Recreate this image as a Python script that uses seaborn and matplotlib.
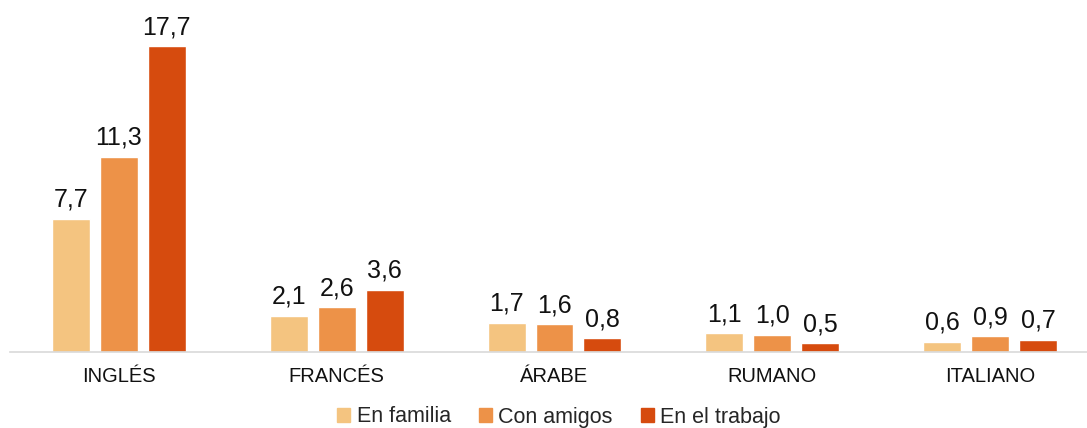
import pandas as pd
import matplotlib
matplotlib.use("Agg")
import matplotlib.pyplot as plt
from matplotlib.patches import Rectangle
import seaborn as sns

# data
idiomas = ["INGLÉS", "FRANCÉS", "ÁRABE", "RUMANO", "ITALIANO"]
series = ["En familia", "Con amigos", "En el trabajo"]
en_familia = [7.7, 2.1, 1.7, 1.1, 0.6]
con_amigos = [11.3, 2.6, 1.6, 1.0, 0.9]
en_trabajo = [17.7, 3.6, 0.8, 0.5, 0.7]
colores = ["#F4C480", "#ED9248", "#D64B0E"]

df = pd.DataFrame({
    "idioma": idiomas * 3,
    "serie": [series[0]] * 5 + [series[1]] * 5 + [series[2]] * 5,
    "valor": en_familia + con_amigos + en_trabajo,
})

sns.set_style("white")
plt.rcParams["font.family"] = ["Liberation Sans", "DejaVu Sans"]

W, H = 1087, 428
fig = plt.figure(figsize=(W / 100, H / 100), dpi=100)
ax = fig.add_axes([10 / W, 76 / H, 1089 / W, 352 / H])

sns.barplot(data=df, x="idioma", y="valor", hue="serie", order=idiomas,
            hue_order=series, palette=colores, width=0.66, gap=0.21,
            saturation=1, legend=False, ax=ax)

for cont in ax.containers:
    labs = [f"{b.get_height():.1f}".replace(".", ",") for b in cont]
    ax.bar_label(cont, labels=labs, padding=5, fontsize=18, color="#111111")

ax.set_xlim(-0.5, 4.5)
ax.set_ylim(0, 352 / (306 / 17.7))
ax.set_xlabel("")
ax.set_ylabel("")
ax.set_yticks([])
ax.tick_params(axis="x", length=0, pad=11, labelsize=14.5, labelcolor="#111111")
for s in ["top", "right", "left"]:
    ax.spines[s].set_visible(False)
ax.spines["bottom"].set_color("#D9D9D9")
ax.spines["bottom"].set_linewidth(1.2)

handles = [Rectangle((0, 0), 1, 1, color=c) for c in colores]
fig.legend(handles, series, loc="center", bbox_to_anchor=(559 / W, 1 - 417 / H),
           ncol=3, frameon=False, fontsize=15.5, handlelength=0.6, handleheight=0.6,
           handletextpad=0.3, columnspacing=1.3)

fig.savefig("out.png", dpi=100)
